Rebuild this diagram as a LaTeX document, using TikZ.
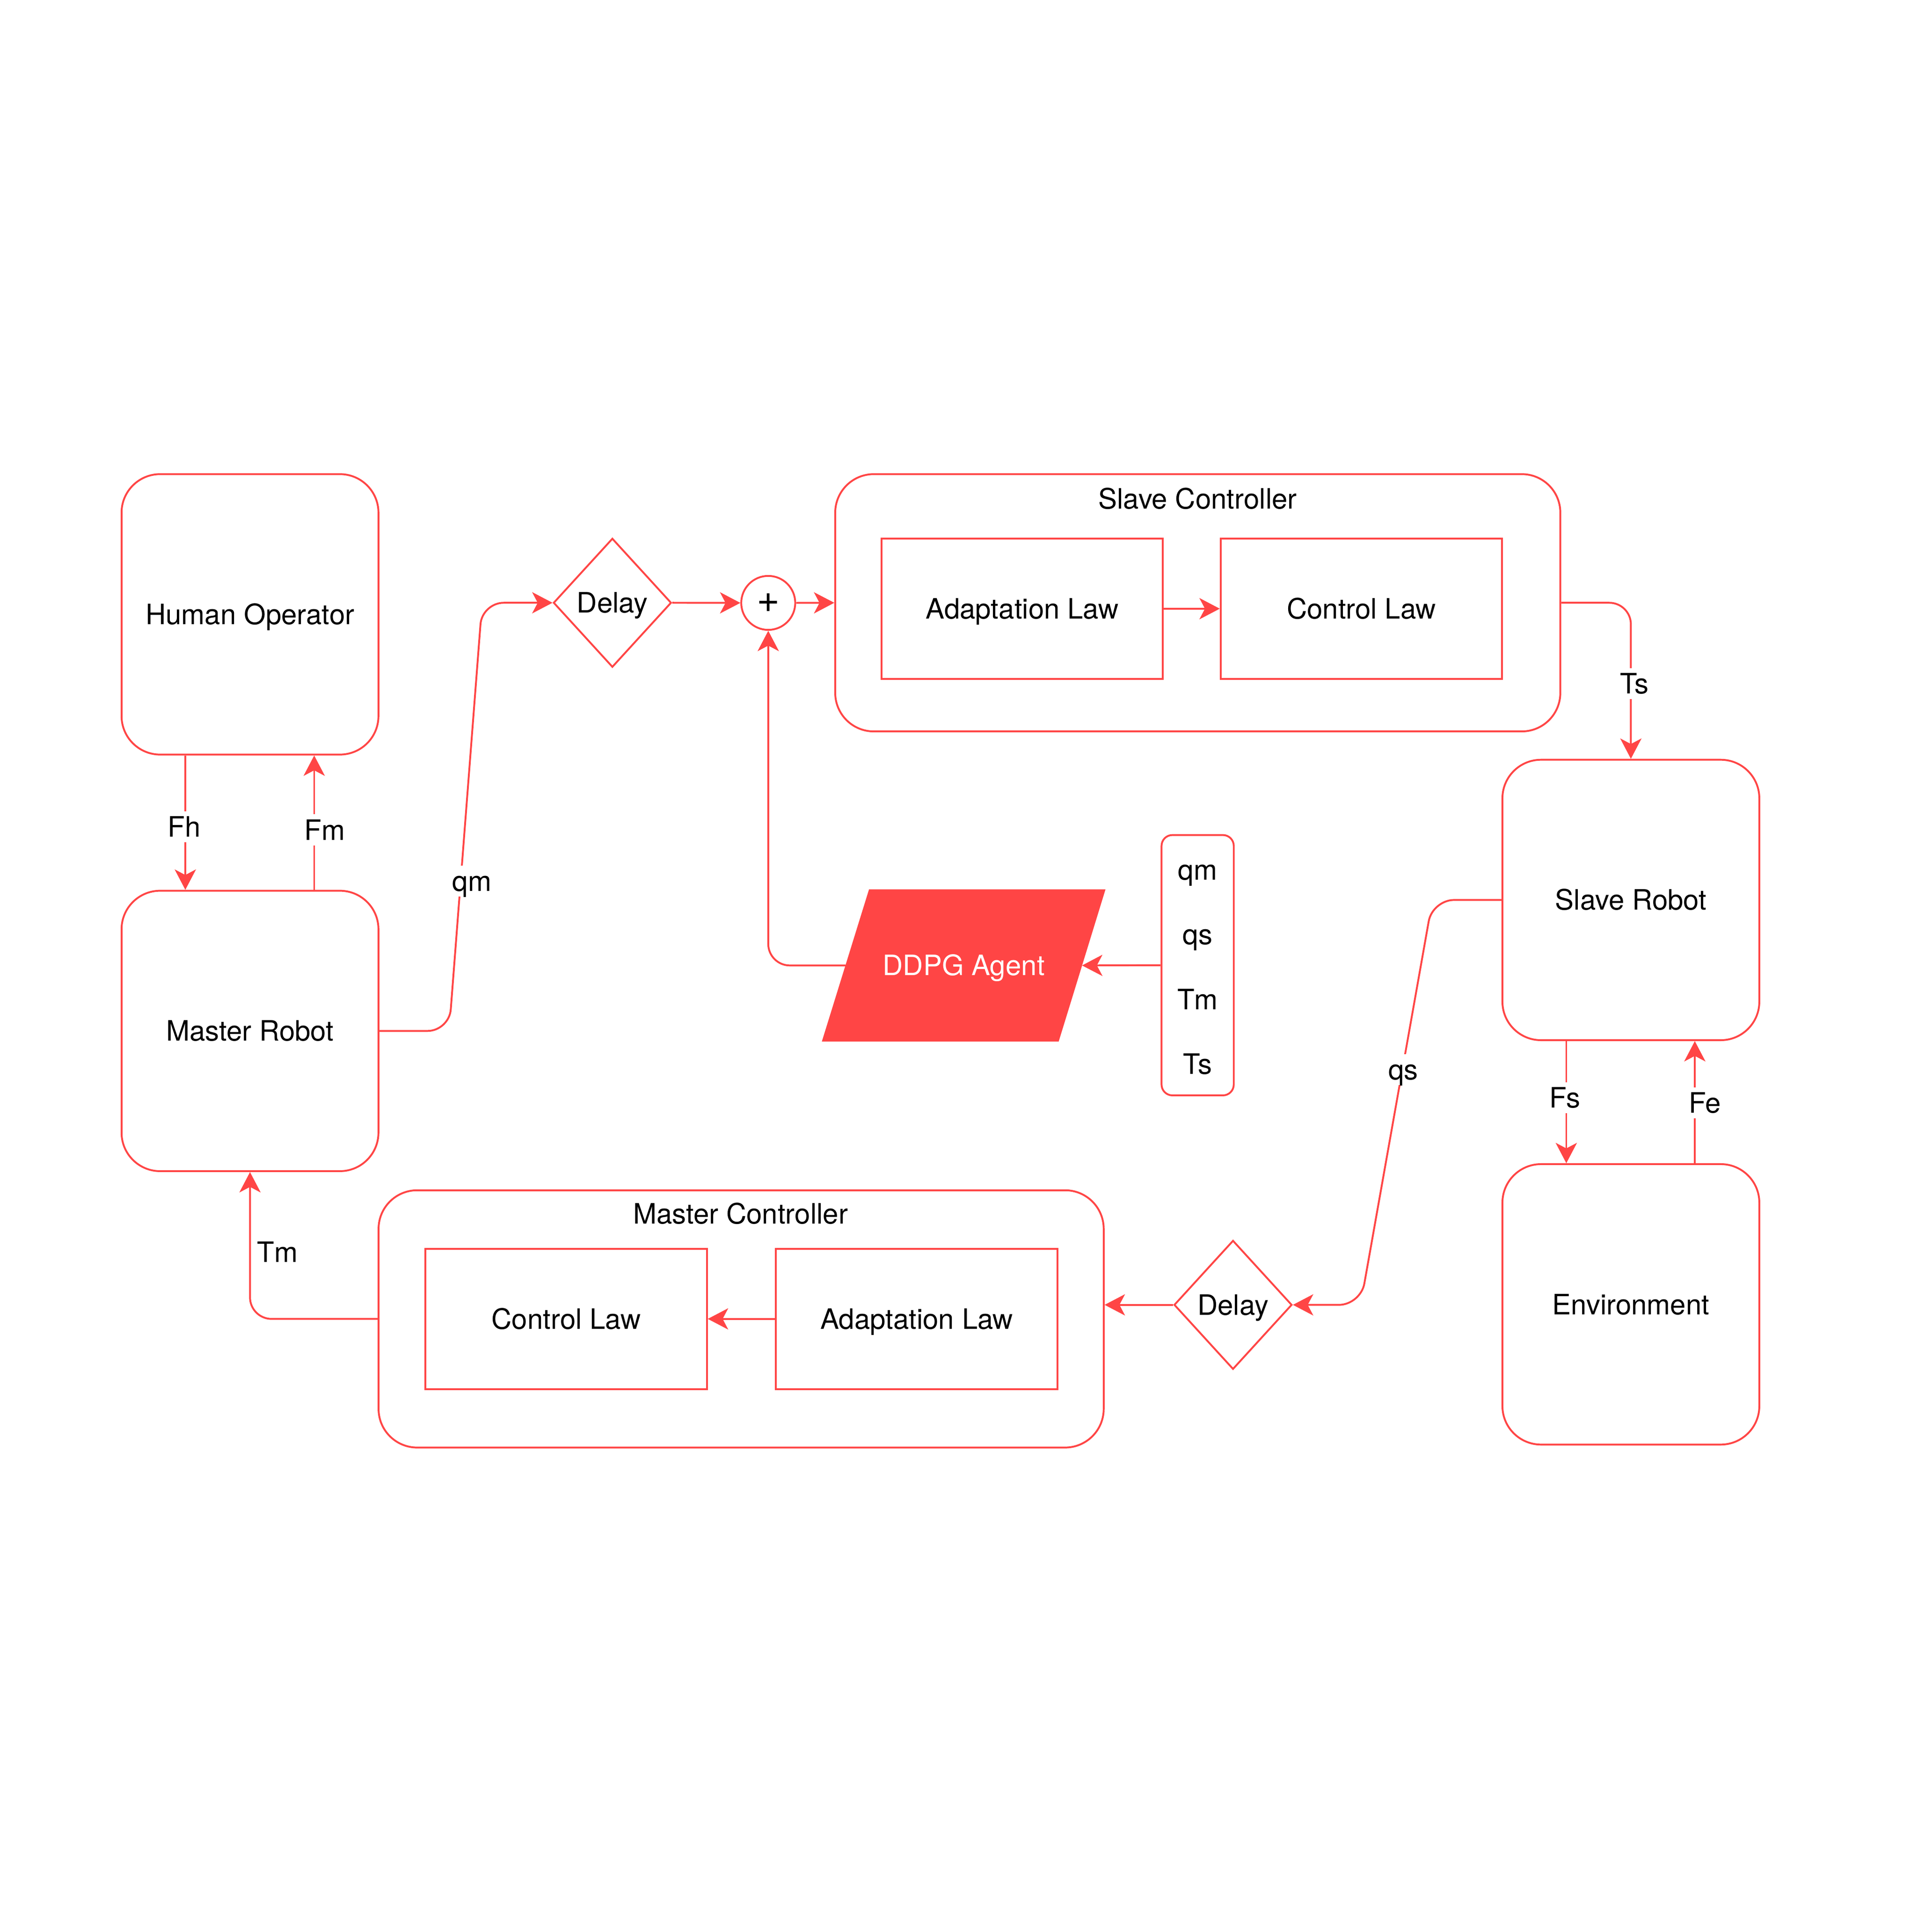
\documentclass[tikz,border=0pt]{standalone}
\usepackage{fontspec}
\setmainfont{TeX Gyre Heros}
\usetikzlibrary{arrows.meta,shapes.geometric}
\definecolor{myred}{HTML}{FF4545}
\tikzset{
  basefont/.style={font=\fontsize{22.8pt}{27pt}\selectfont},
  txtnode/.style={basefont, text height=16.3pt, text depth=0pt, inner sep=0pt},
  bigbox/.style={draw=myred, line width=1.5pt, rounded corners=31.3pt, minimum width=208.5pt, minimum height=227.6pt, txtnode},
  ctrlbox/.style={draw=myred, line width=1.5pt, rounded corners=31.3pt, minimum width=588.5pt, minimum height=208.8pt, inner sep=0pt},
  lawbox/.style={draw=myred, line width=1.5pt, minimum width=228.4pt, minimum height=114pt, txtnode},
  delaybox/.style={diamond, draw=myred, line width=1.5pt, minimum width=95.7pt, minimum height=104.6pt, txtnode},
  lbl/.style={txtnode, fill=white, inner xsep=2pt, inner ysep=4.4pt},
  arr/.style={draw=myred, line width=1.5pt, -{Stealth[length=16.5pt, width=17.2pt, inset=4.5pt]}},
}
\begin{document}
\begin{tikzpicture}[x=1pt, y=-1pt]
\useasboundingbox (0,0) rectangle (1568,1568);
\fill[white] (0,0) rectangle (1568,1568);

% main blocks
\node[bigbox] (ho) at (202.9,498.6) {Human Operator};
\node[bigbox] (mr) at (202.9,836.7) {Master Robot};
\node[bigbox] (sr) at (1323.6,730.4) {Slave Robot};
\node[bigbox] (env) at (1323.6,1058.6) {Environment};

% controllers
\node[ctrlbox] (sc) at (972.1,489.2) {};
\node[txtnode] (sctitle) at (972,404.8) {Slave Controller};
\node[lawbox] (sal) at (829.6,494) {Adaptation Law};
\node[lawbox] (scl) at (1104.9,494) {Control Law};

\node[ctrlbox] (mc) at (601.5,1070.4) {};
\node[txtnode] (mctitle) at (601,985.1) {Master Controller};
\node[lawbox] (mcl) at (459.5,1070.4) {Control Law};
\node[lawbox] (mal) at (744,1070.4) {Adaptation Law};

% delays and sum
\node[delaybox] (d1) at (497,489.2) {Delay};
\node[delaybox] (d2) at (1000.7,1059) {Delay};
\node[circle, draw=myred, line width=1.5pt, minimum size=43.8pt, inner sep=0pt,
      font=\fontsize{32pt}{38pt}\selectfont] (plus) at (623.5,489.3) {+};

% DDPG agent
\coordinate (ddpgTL) at (705.3,721.8);
\coordinate (ddpgTR) at (897.2,721.8);
\coordinate (ddpgBR) at (859.2,845.3);
\coordinate (ddpgBL) at (667,845.3);
\coordinate (ddpgL) at (686.15,783.55);
\coordinate (ddpgR) at (878.2,783.55);
\fill[myred] (ddpgTL) -- (ddpgTR) -- (ddpgBR) -- (ddpgBL) -- cycle;
\node[txtnode, text=white] (ddpg) at (782.1,783.5) {DDPG Agent};

% state list
\node[draw=myred, line width=1.5pt, rounded corners=8.8pt, minimum width=58.6pt,
      minimum height=211.3pt, inner sep=0pt] (list) at (972,783.35) {};
\node[txtnode] (lqm) at (972,705.8) {qm};
\node[txtnode] (lqs) at (972,758.4) {qs};
\node[txtnode] (ltm) at (972,811) {Tm};
\node[txtnode] (lts) at (972,863.6) {Ts};

% connectors
\draw[arr] ([xshift=-52.5pt]ho.south) -- ([xshift=-52.5pt]mr.north);
\draw[arr] ([xshift=52.1pt]mr.north) -- ([xshift=52.1pt]ho.south);
\draw[arr, rounded corners=17.5pt] (mr.east) -- (364.5,836.7) -- (391.3,489.2) -- (d1.west);
\draw[arr] (d1.east) -- (plus.west);
\draw[arr] (plus.east) -- (sc.west);
\draw[arr] (sal.east) -- (scl.west);
\draw[arr, rounded corners=17.5pt] (sc.east) -| (sr.north);
\draw[arr] ([xshift=-52.4pt]sr.south) -- ([xshift=-52.4pt]env.north);
\draw[arr] ([xshift=51.9pt]env.north) -- ([xshift=51.9pt]sr.south);
\draw[arr, rounded corners=17.5pt] (sr.west) -- (1162.6,730.4) -- (1104.2,1059) -- (d2.east);
\draw[arr] (d2.west) -- (d2.west -| mc.east);
\draw[arr] (mal.west) -- (mcl.east);
\draw[arr, rounded corners=17.5pt] (mc.west) -| (mr.south);
\draw[arr] (list.west) -- (ddpgR);
\draw[arr, rounded corners=17.5pt] (ddpgL) -| (plus.south);

% connector labels
\node[lbl] (lfh) at (149.6,671) {Fh};
\node[lbl] (lfm) at (263.5,673.5) {Fm};
\node[lbl] (lqmc) at (383,715) {qm};
\node[lbl] (ltsc) at (1326.5,554.8) {Ts};
\node[lbl] (lfs) at (1270.1,890.9) {Fs};
\node[lbl] (lfe) at (1383.8,895) {Fe};
\node[lbl] (lqsc) at (1138.9,868) {qs};
\node[txtnode] (ltmc) at (225.3,1016.3) {Tm};
\end{tikzpicture}
\end{document}
